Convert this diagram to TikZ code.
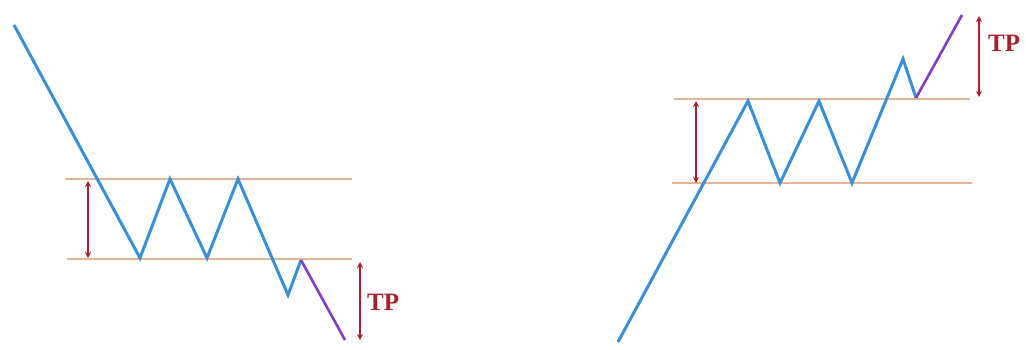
\documentclass[tikz,border=0pt]{standalone}
\usepackage{fontspec}
\setmainfont{Liberation Serif}
\usetikzlibrary{arrows.meta}
\definecolor{pblue}{HTML}{3A8FD6}
\definecolor{ptan}{HTML}{E2B596}
\definecolor{pred}{HTML}{A8202C}
\definecolor{ppurp}{HTML}{7E3FC4}
\tikzset{
  price/.style={draw=pblue, line width=3pt, line join=miter},
  breakout/.style={draw=ppurp, line width=2.6pt},
  level/.style={draw=ptan, line width=2pt},
  measure/.style={draw=pred, line width=2pt, {Stealth[length=6pt,width=6pt]}-{Stealth[length=6pt,width=6pt]}},
  tplabel/.style={text=pred, font=\fontsize{25}{25}\selectfont\bfseries, anchor=west, inner sep=0pt}
}
\begin{document}
\begin{tikzpicture}[x=1pt,y=-1pt]
\useasboundingbox[fill=white] (0,0) rectangle (1026,349);
% ---------- left panel ----------
\coordinate (LU1) at (65,179); \coordinate (LU2) at (352,179);
\coordinate (LL1) at (67,259); \coordinate (LL2) at (352,259);
\draw[level] (LU1) -- (LU2);
\draw[level] (LL1) -- (LL2);
\coordinate (a0) at (14,25);
\coordinate (a1) at (140,258);
\coordinate (a2) at (170,179);
\coordinate (a3) at (207,258);
\coordinate (a4) at (238,179);
\coordinate (a5) at (288,295);
\coordinate (a6) at (301,260);
\coordinate (a7) at (345,340);
\draw[price] (a0) -- (a1) -- (a2) -- (a3) -- (a4) -- (a5) -- (a6);
\draw[breakout] (a6) -- (a7);
\coordinate (m1t) at (88,181); \coordinate (m1b) at (88,258);
\draw[measure] (m1t) -- (m1b);
\coordinate (t1t) at (360,262); \coordinate (t1b) at (360,340);
\draw[measure] (t1t) -- (t1b);
\node[tplabel] (tp1) at (367,302) {TP};
% ---------- right panel ----------
\coordinate (RU1) at (674,99); \coordinate (RU2) at (970,99);
\coordinate (RL1) at (672,183); \coordinate (RL2) at (972,183);
\draw[level] (RU1) -- (RU2);
\draw[level] (RL1) -- (RL2);
\coordinate (b0) at (618,342);
\coordinate (b1) at (748,101);
\coordinate (b2) at (780,183);
\coordinate (b3) at (819,101);
\coordinate (b4) at (852,183);
\coordinate (b5) at (903,59);
\coordinate (b6) at (916,98);
\coordinate (b7) at (962,15);
\draw[price] (b0) -- (b1) -- (b2) -- (b3) -- (b4) -- (b5) -- (b6);
\draw[breakout] (b6) -- (b7);
\coordinate (m2t) at (696,101); \coordinate (m2b) at (696,183);
\draw[measure] (m2t) -- (m2b);
\coordinate (t2t) at (979,16); \coordinate (t2b) at (979,97);
\draw[measure] (t2t) -- (t2b);
\node[tplabel] (tp2) at (988,43) {TP};
\end{tikzpicture}
\end{document}
